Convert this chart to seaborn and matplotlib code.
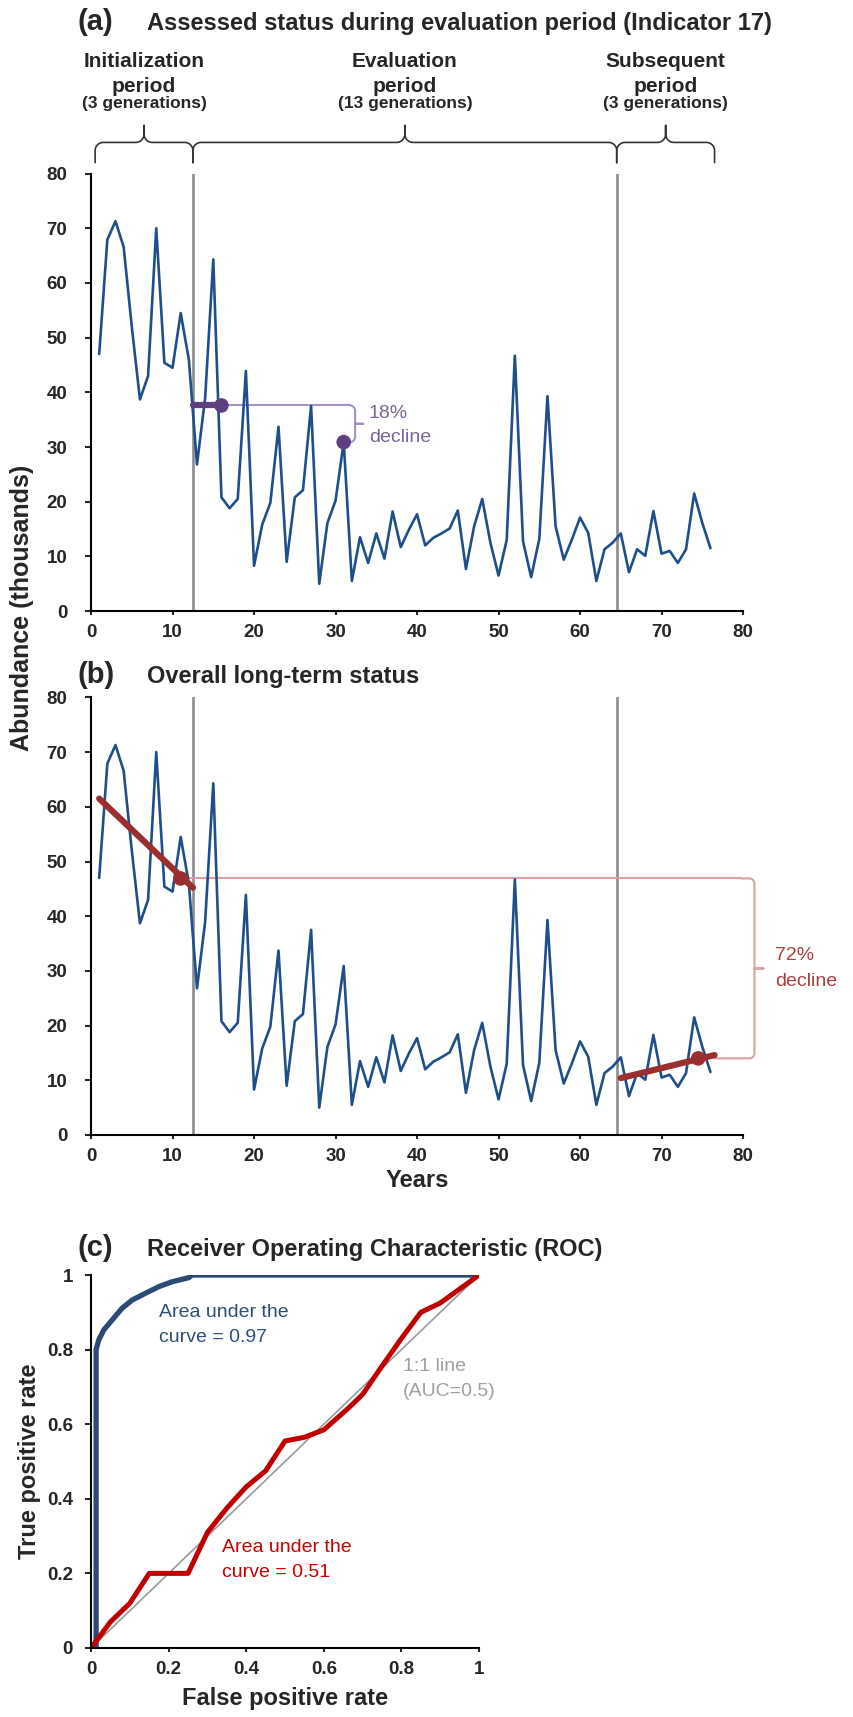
import numpy as np
import pandas as pd
import seaborn as sns
import matplotlib.pyplot as plt

# ---- data ----
years = list(range(1, 77))
abundance = [47, 67.9, 71.3, 66.6, 52, 38.7, 43, 70, 45.4, 44.5,
             54.5, 46, 26.8, 39, 64.3, 20.8, 18.8, 20.5, 43.9, 8.3,
             15.8, 19.8, 33.7, 9.0, 20.8, 22.1, 37.5, 5.0, 16.1, 20.2,
             30.9, 5.5, 13.5, 8.8, 14.2, 9.6, 18.2, 11.7, 14.9, 17.7,
             12.0, 13.4, 14.2, 15.1, 18.4, 7.7, 15.5, 20.5, 12.5, 6.5,
             13.0, 46.7, 12.8, 6.2, 13.2, 39.3, 15.5, 9.4, 13.1, 17.1,
             14.3, 5.5, 11.3, 12.5, 14.2, 7.1, 11.3, 10.1, 18.3, 10.5,
             11.0, 8.8, 11.3, 21.5, 16.1, 11.5]

period_bounds = [0.5, 12.5, 64.5, 76.5]
period_names = ["Initialization", "Evaluation", "Subsequent"]
period_gens = ["(3 generations)", "(13 generations)", "(3 generations)"]

# indicator 17 (panel a)
eval_start = [12.5, 16]
eval_start_val = [37.6, 37.6]
eval_end_year = 31
eval_end_val = 30.9

# long-term trends (panel b)
early_trend_x = [1, 12.5]
early_trend_y = [61.5, 45.2]
early_dot = (11, 46.9)
late_trend_x = [65, 76.5]
late_trend_y = [10.4, 14.6]
late_dot = (74.5, 14.0)

# ROC curves (panel c)
fpr_good = [0.013, 0.013, 0.02, 0.033, 0.054, 0.08, 0.106, 0.14, 0.175, 0.209, 0.252, 0.26, 1.0]
tpr_good = [0.0, 0.8, 0.826, 0.853, 0.879, 0.911, 0.933, 0.951, 0.969, 0.982, 0.993, 1.0, 1.0]
fpr_bad = [0, 0.05, 0.1, 0.15, 0.25, 0.3, 0.35, 0.4, 0.45, 0.5, 0.55, 0.6,
           0.66, 0.7, 0.75, 0.8, 0.85, 0.9, 1.0]
tpr_bad = [0, 0.07, 0.12, 0.2, 0.2, 0.31, 0.375, 0.432, 0.475, 0.555, 0.565,
           0.585, 0.64, 0.68, 0.756, 0.83, 0.9, 0.925, 1.0]

sns.set_style("ticks")
plt.rcParams["font.family"] = ["Liberation Sans", "DejaVu Sans"]

BLUE = "#1f4f8b"
GRAY = "#8c8c8c"
PURPLE = "#5e4080"
PURPLE_L = "#a692c2"
PURPLE_T = "#7b6499"
RED = "#9b2f2f"
PINK = "#dba0a0"
RED_T = "#a8403f"
TITLE = 17
LABEL = 17

fig = plt.figure(figsize=(8.54, 17.17), dpi=100)
ax_a = fig.add_axes([0.1066, 0.6441, 0.7635, 0.2548])
ax_b = fig.add_axes([0.1066, 0.3390, 0.7635, 0.2548])
ax_c = fig.add_axes([0.1066, 0.0402, 0.4543, 0.2172])

df = pd.DataFrame({"Year": years, "Abundance": abundance})


def brace_up(ax, x0, x1, yh, yend, ytip, rx=1.0, ry=1.5, **kw):
    xm = (x0 + x1) / 2
    t = np.linspace(0, np.pi / 2, 12)
    xs, ys = [x0], [yend]
    xs += list(x0 + rx - rx * np.cos(t)); ys += list(yh - ry + ry * np.sin(t))
    xs += list(xm - rx + rx * np.sin(t)); ys += list(yh + ry - ry * np.cos(t))
    xs += [xm, xm]; ys += [ytip, yh + ry]
    xs += list(xm + rx - rx * np.cos(t)); ys += list(yh + ry - ry * np.sin(t))
    xs += list(x1 - rx + rx * np.sin(t)); ys += list(yh - ry + ry * np.cos(t))
    xs += [x1]; ys += [yend]
    ax.plot(xs, ys, clip_on=False, **kw)


def brace_right(ax, xb, ytop, ybot, xin_top, xin_bot, tick, rx=0.6, ry=1.0, **kw):
    t = np.linspace(0, np.pi / 2, 10)
    ym = (ytop + ybot) / 2
    xs = [xin_top] + list(xb - rx + rx * np.sin(t))
    ys = [ytop] + list(ytop - ry + ry * np.cos(t))
    xs += [xb, xb + tick, xb, xb]
    ys += [ym, ym, ym, ybot + ry]
    xs += list(xb - rx + rx * np.cos(t)) + [xin_bot]
    ys += list(ybot + ry - ry * np.sin(t)) + [ybot]
    ax.plot(xs, ys, clip_on=False, **kw)


for ax in (ax_a, ax_b):
    for xv in period_bounds[1:3]:
        ax.axvline(xv, ymin=0, ymax=1, color=GRAY, lw=1.9, zorder=1)
    sns.lineplot(data=df, x="Year", y="Abundance", ax=ax, color=BLUE, lw=1.9,
                 estimator=None, sort=False, zorder=3)
    ax.set_xlim(0, 80)
    ax.set_ylim(0, 80)
    ax.set_xticks(range(0, 81, 10))
    ax.set_yticks(range(0, 81, 10))
    ax.set_xlabel("")
    ax.set_ylabel("")

# ---- panel a annotations ----
ax_a.plot([eval_start[1], 32.4 - 0.6], [eval_start_val[1]] * 2, color=PURPLE_L, lw=1.5, zorder=2)
brace_right(ax_a, 32.4, eval_start_val[1], eval_end_val, 32.4 - 0.6, eval_end_year,
            1.0, color=PURPLE_L, lw=1.5, zorder=2)
ax_a.plot(eval_start, eval_start_val, color=PURPLE, lw=4.5, solid_capstyle="round", zorder=4)
ax_a.scatter([eval_start[1], eval_end_year], [eval_start_val[1], eval_end_val], s=110,
             color=PURPLE, zorder=5, edgecolor="none")
ax_a.text(34.1, 36.1, "18%", color=PURPLE_T, fontsize=14, va="center")
ax_a.text(34.1, 31.7, "decline", color=PURPLE_T, fontsize=14, va="center")

for i in range(3):
    x0, x1 = period_bounds[i], period_bounds[i + 1]
    brace_up(ax_a, x0, x1, 85.7, 82.0, 88.8, color="#333333", lw=1.2)
    xm = (x0 + x1) / 2
    ax_a.text(xm, 99.4, period_names[i], ha="center", va="baseline", fontsize=15,
              fontweight="bold", clip_on=False)
    ax_a.text(xm, 94.9, "period", ha="center", va="baseline", fontsize=15,
              fontweight="bold", clip_on=False)
    ax_a.text(xm, 92.0, period_gens[i], ha="center", va="baseline", fontsize=12.5,
              fontweight="bold", clip_on=False)

ax_a.text(-0.021, 1.329, "(a)", transform=ax_a.transAxes, fontsize=21, fontweight="bold",
          va="baseline")
ax_a.text(0.086, 1.329, "Assessed status during evaluation period (Indicator 17)",
          transform=ax_a.transAxes, fontsize=TITLE, fontweight="bold", va="baseline")

# ---- panel b annotations ----
ax_b.plot([early_dot[0], 79.8], [early_dot[1]] * 2, color=PINK, lw=1.5, zorder=2)
brace_right(ax_b, 81.4, early_dot[1], late_dot[1], 79.8, late_trend_x[1],
            1.1, color=PINK, lw=1.5, zorder=2)
ax_b.plot(early_trend_x, early_trend_y, color=RED, lw=4.5, solid_capstyle="round", zorder=4)
ax_b.plot(late_trend_x, late_trend_y, color=RED, lw=4.5, solid_capstyle="round", zorder=4)
ax_b.scatter([early_dot[0], late_dot[0]], [early_dot[1], late_dot[1]], s=110, color=RED,
             zorder=5, edgecolor="none")
ax_b.text(83.9, 32.8, "72%", color=RED_T, fontsize=14, va="center")
ax_b.text(83.9, 28.1, "decline", color=RED_T, fontsize=14, va="center")
ax_b.text(-0.021, 1.032, "(b)", transform=ax_b.transAxes, fontsize=21, fontweight="bold",
          va="baseline")
ax_b.text(0.086, 1.032, "Overall long-term status", transform=ax_b.transAxes, fontsize=TITLE,
          fontweight="bold", va="baseline")
ax_b.set_xlabel("Years", fontsize=LABEL, fontweight="bold", labelpad=3)

fig.text(0.026, 0.646, "Abundance (thousands)", rotation=90, ha="center", va="center",
         fontsize=18, fontweight="bold")

# ---- panel c ----
roc = pd.concat([
    pd.DataFrame({"fpr": [0, 1], "tpr": [0, 1], "curve": "1:1"}),
    pd.DataFrame({"fpr": fpr_good, "tpr": tpr_good, "curve": "good"}),
    pd.DataFrame({"fpr": fpr_bad, "tpr": tpr_bad, "curve": "bad"}),
])
sns.lineplot(data=roc[roc.curve == "1:1"], x="fpr", y="tpr", ax=ax_c, color="#9a9a9a", lw=1.2,
             estimator=None, sort=False)
sns.lineplot(data=roc[roc.curve == "good"], x="fpr", y="tpr", ax=ax_c, color="#2b4a74", lw=3.8,
             estimator=None, sort=False)
sns.lineplot(data=roc[roc.curve == "bad"], x="fpr", y="tpr", ax=ax_c, color="#c00000", lw=3.6,
             estimator=None, sort=False)
ax_c.set_xlim(0, 1)
ax_c.set_ylim(0, 1)
ticks = [0, 0.2, 0.4, 0.6, 0.8, 1]
tick_labels = ["0", "0.2", "0.4", "0.6", "0.8", "1"]
ax_c.set_xticks(ticks, tick_labels)
ax_c.set_yticks(ticks, tick_labels)
ax_c.set_xlabel("False positive rate", fontsize=LABEL, fontweight="bold", labelpad=6)
ax_c.set_ylabel("True positive rate", fontsize=LABEL, fontweight="bold", labelpad=4)

roc_notes = [
    (0.175, [0.887, 0.821], ["Area under the", "curve = 0.97"], "#2e4f7a"),
    (0.804, [0.743, 0.676], ["1:1 line", "(AUC=0.5)"], "#a0a0a0"),
    (0.337, [0.258, 0.191], ["Area under the", "curve = 0.51"], "#cc0000"),
]
for x, ys, lines, col in roc_notes:
    for y, s in zip(ys, lines):
        ax_c.text(x, y, s, color=col, fontsize=14, va="baseline", clip_on=False)

ax_c.text(-0.035, 1.05, "(c)", transform=ax_c.transAxes, fontsize=21, fontweight="bold",
          va="baseline")
ax_c.text(0.144, 1.05, "Receiver Operating Characteristic (ROC)", transform=ax_c.transAxes,
          fontsize=TITLE, fontweight="bold", va="baseline")

for ax in (ax_a, ax_b, ax_c):
    sns.despine(ax=ax)
    for s in ("left", "bottom"):
        ax.spines[s].set_linewidth(1.5)
        ax.spines[s].set_color("black")
    ax.tick_params(axis="x", direction="out", length=3, width=1.5, labelsize=13.5, pad=6.5)
    ax.tick_params(axis="y", direction="out", length=4, width=1.5, labelsize=13.5,
                   pad=13 if ax is not ax_c else 9)
    for lab in ax.get_xticklabels() + ax.get_yticklabels():
        lab.set_fontweight("bold")

fig.savefig("out.png", dpi=100)
